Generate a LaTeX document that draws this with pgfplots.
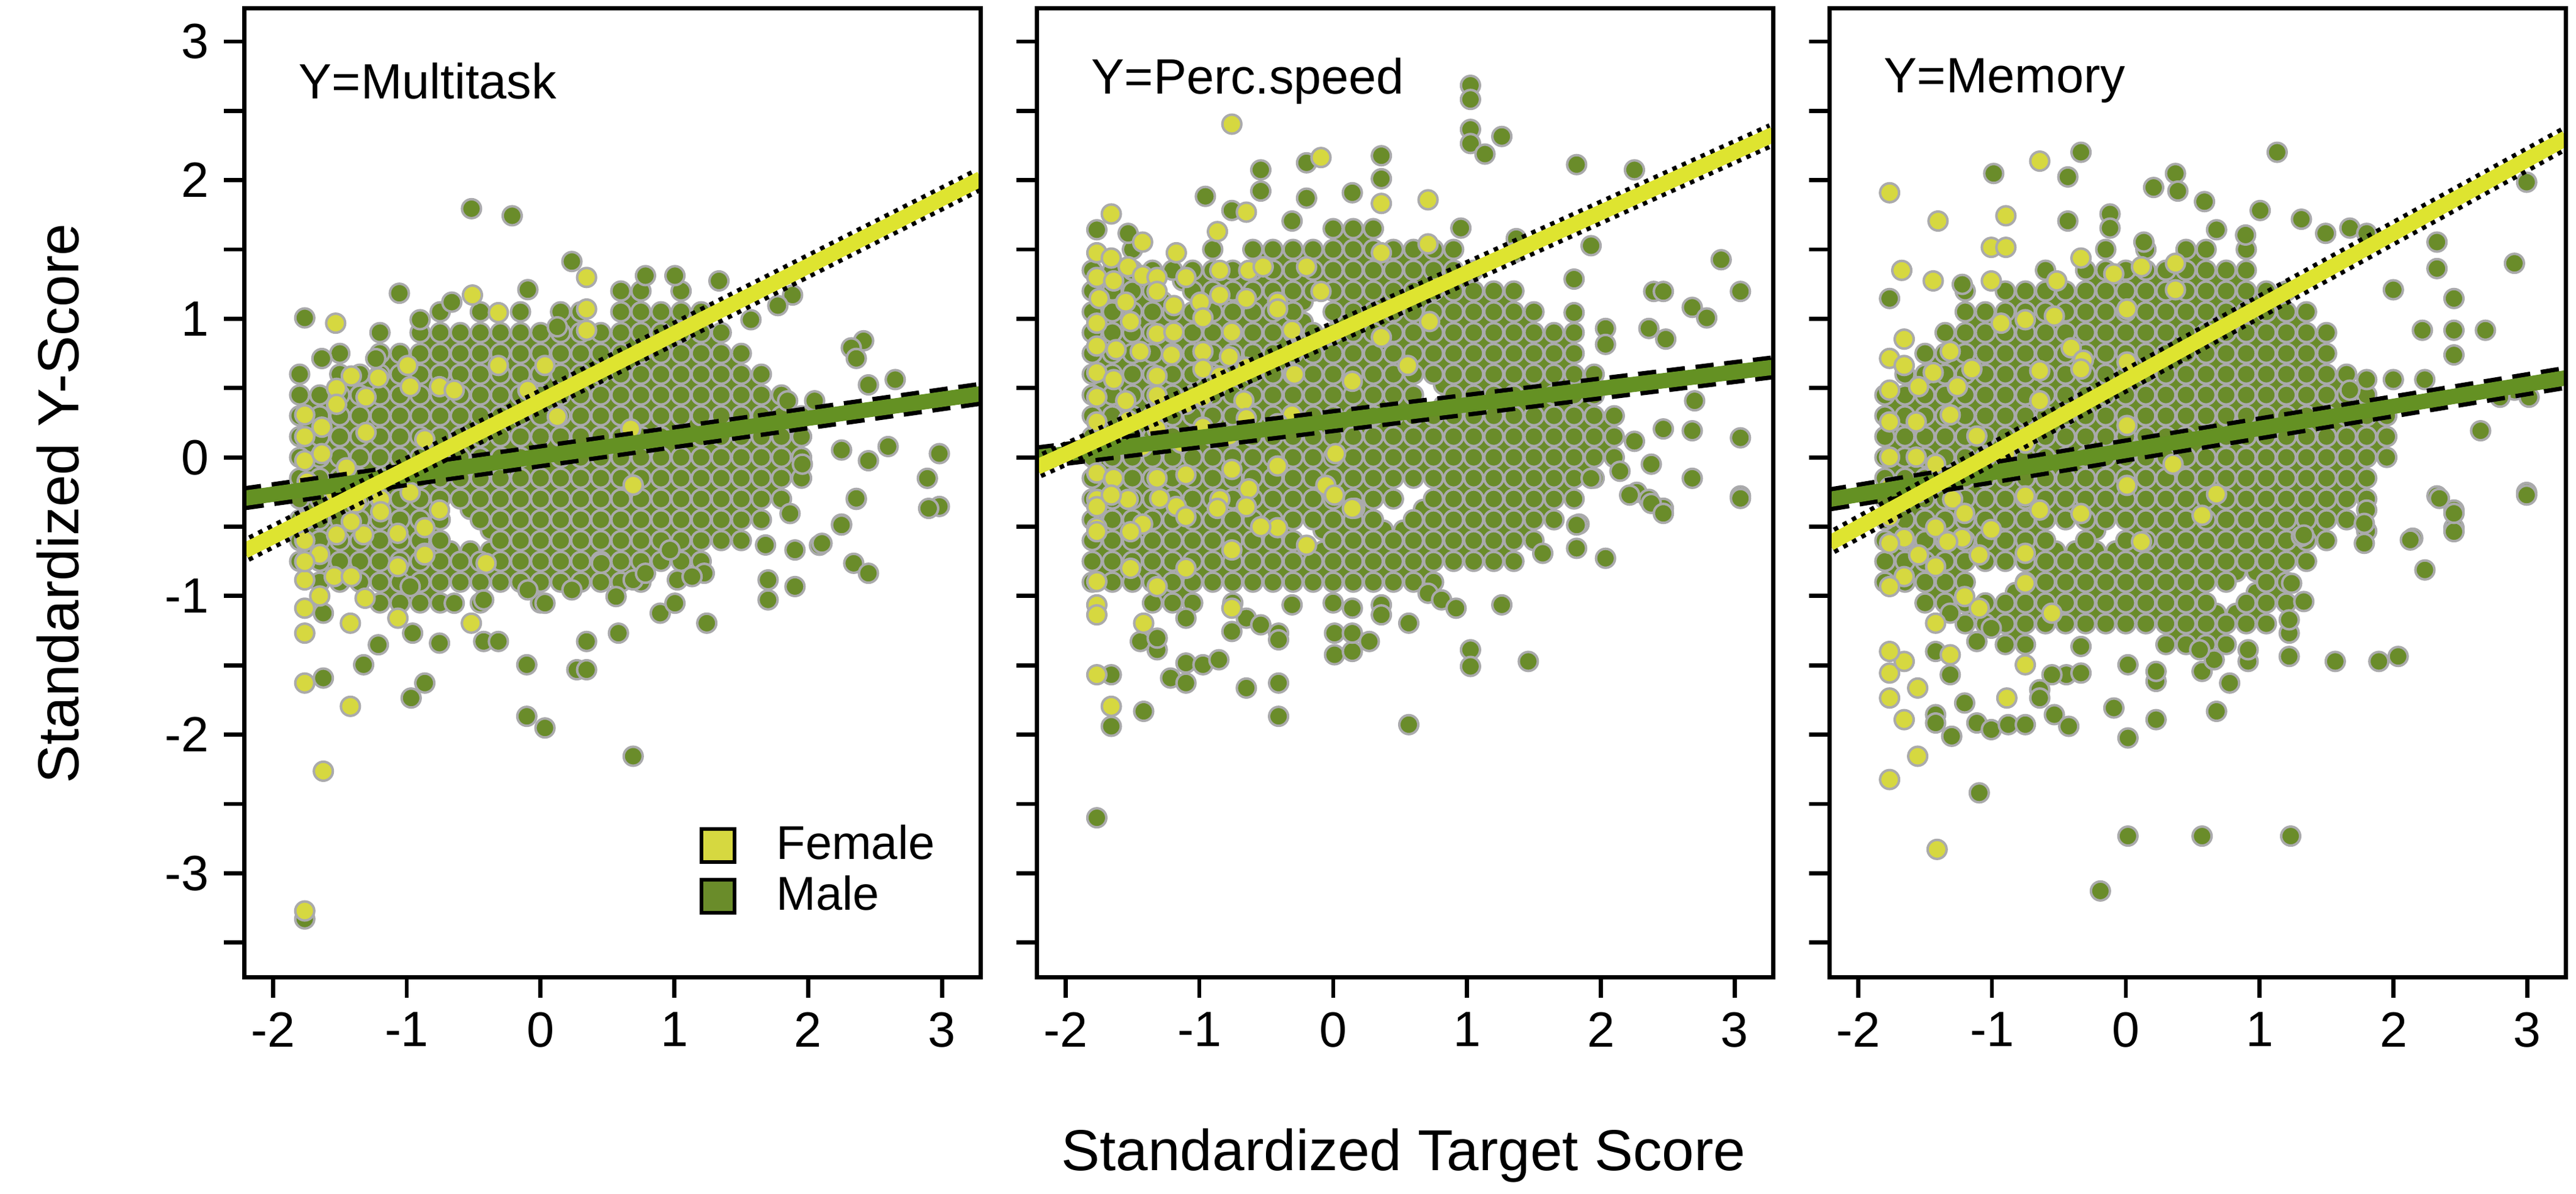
\documentclass[border=0pt]{standalone}
\usepackage{fontspec}
\setmainfont{Liberation Sans}
\usepackage{pgfplots}
\pgfplotsset{compat=1.18}
\definecolor{malegreen}{RGB}{106,140,42}
\definecolor{malelinegreen}{RGB}{100,145,35}
\definecolor{femfill}{RGB}{214,216,64}
\definecolor{femline}{RGB}{222,228,48}
\definecolor{edgegray}{RGB}{170,170,172}
\tikzset{ptitle/.style={anchor=west, inner sep=0pt, font=\fontsize{12}{14}\selectfont}}
\pgfplotsset{
  panel/.style={
    scale only axis, width=178.4pt, height=234.8pt,
    xmin=-2.213, xmax=3.29, ymin=-3.75, ymax=3.24,
    axis line style={line width=1pt},
    xtick={-2,-1,0,1,2,3}, xticklabels={-2,-1,0,1,2,3},
    ytick={-3,-2,-1,0,1,2,3},
    minor ytick={-3.5,-2.5,-1.5,-0.5,0.5,1.5,2.5},
    xtick pos=bottom, ytick pos=left,
    tick align=outside,
    major tick length=5pt, minor tick length=5pt,
    tick style={black, line width=1pt},
    tick label style={font=\fontsize{12}{14}\selectfont},
    clip marker paths=true,
    axis on top,
  },
  male/.style={only marks, mark=*, mark size=2.3pt, mark options={fill=malegreen, draw=edgegray, line width=0.6pt}, forget plot},
  female/.style={only marks, mark=*, mark size=2.3pt, mark options={fill=femfill, draw=edgegray, line width=0.6pt}, forget plot},
  fdots/.style={black, line width=5.8pt, dash pattern=on 1.1pt off 1.4pt, forget plot},
  fcore/.style={femline, line width=3.7pt, forget plot},
  mdash/.style={black, line width=5.8pt, dash pattern=on 4.4pt off 2.6pt, forget plot},
  mcore/.style={malelinegreen, line width=3.7pt, forget plot},
}
\begin{document}
\begin{tikzpicture}
% ---------------- Panel 1: Multitask ----------------
\begin{axis}[panel, at={(0pt,0pt)}, anchor=south west,
  yticklabels={-3,-2,-1,0,1,2,3},
  legend style={at={(rel axis cs:0.6,0.175)}, anchor=north west, draw=none, fill=none,
    font=\fontsize{11.5}{13}\selectfont, row sep=-1.5pt, cells={anchor=west}}]
\addlegendimage{legend image code/.code={\draw[black,line width=0.9pt,fill=femfill] (0pt,-4pt) rectangle (8pt,4pt); \path (16pt,0pt);}}
\addlegendentry{Female}
\addlegendimage{legend image code/.code={\draw[black,line width=0.9pt,fill=malegreen] (0pt,-4pt) rectangle (8pt,4pt); \path (16pt,0pt);}}
\addlegendentry{Male}
\addplot[male] coordinates {
(-1.725,-0.675)(-1.725,-0.525)(-1.725,-0.375)(-1.725,-0.225)(-1.725,-0.075)(-1.725,0.075)(-1.725,0.225)(-1.725,0.375)
(-1.575,-0.825)(-1.575,-0.675)(-1.575,-0.525)(-1.575,-0.375)(-1.575,-0.225)(-1.575,-0.075)(-1.575,0.075)(-1.575,0.225)(-1.575,0.375)
(-1.425,-0.825)(-1.425,-0.675)(-1.425,-0.525)(-1.425,-0.375)(-1.425,-0.225)(-1.425,-0.075)(-1.425,0.075)(-1.425,0.225)(-1.425,0.375)(-1.425,0.525)
(-1.275,-0.825)(-1.275,-0.675)(-1.275,-0.525)(-1.275,-0.375)(-1.275,-0.225)(-1.275,-0.075)(-1.275,0.075)(-1.275,0.225)(-1.275,0.375)(-1.275,0.525)
(-1.125,-0.975)(-1.125,-0.825)(-1.125,-0.675)(-1.125,-0.525)(-1.125,-0.375)(-1.125,-0.225)(-1.125,-0.075)(-1.125,0.075)(-1.125,0.225)(-1.125,0.375)(-1.125,0.525)(-1.125,0.675)
(-0.975,-0.975)(-0.975,-0.825)(-0.975,-0.675)(-0.975,-0.525)(-0.975,-0.375)(-0.975,-0.225)(-0.975,-0.075)(-0.975,0.075)(-0.975,0.225)(-0.975,0.375)(-0.975,0.525)(-0.975,0.675)
(-0.825,-0.975)(-0.825,-0.825)(-0.825,-0.675)(-0.825,-0.525)(-0.825,-0.375)(-0.825,-0.225)(-0.825,-0.075)(-0.825,0.075)(-0.825,0.225)(-0.825,0.375)(-0.825,0.525)(-0.825,0.675)(-0.825,0.825)
(-0.675,-0.825)(-0.675,-0.675)(-0.675,-0.225)(-0.675,-0.075)(-0.675,0.075)(-0.675,0.225)(-0.675,0.375)(-0.675,0.525)(-0.675,0.675)(-0.675,0.825)
(-0.525,-0.825)(-0.525,-0.675)(-0.525,-0.375)(-0.525,-0.225)(-0.525,-0.075)(-0.525,0.075)(-0.525,0.225)(-0.525,0.375)(-0.525,0.525)(-0.525,0.675)(-0.525,0.825)
(-0.375,-0.825)(-0.375,-0.675)(-0.375,-0.525)(-0.375,-0.375)(-0.375,-0.225)(-0.375,-0.075)(-0.375,0.075)(-0.375,0.225)(-0.375,0.375)(-0.375,0.525)(-0.375,0.675)(-0.375,0.825)
(-0.225,-0.825)(-0.225,-0.675)(-0.225,-0.525)(-0.225,-0.375)(-0.225,-0.225)(-0.225,-0.075)(-0.225,0.075)(-0.225,0.225)(-0.225,0.375)(-0.225,0.525)(-0.225,0.675)(-0.225,0.825)
(-0.075,-0.825)(-0.075,-0.675)(-0.075,-0.525)(-0.075,-0.375)(-0.075,-0.225)(-0.075,-0.075)(-0.075,0.075)(-0.075,0.225)(-0.075,0.375)(-0.075,0.525)(-0.075,0.675)(-0.075,0.825)
(0.075,-0.825)(0.075,-0.675)(0.075,-0.525)(0.075,-0.375)(0.075,-0.225)(0.075,-0.075)(0.075,0.075)(0.075,0.225)(0.075,0.375)(0.075,0.525)(0.075,0.675)(0.075,0.825)
(0.225,-0.825)(0.225,-0.675)(0.225,-0.525)(0.225,-0.375)(0.225,-0.225)(0.225,-0.075)(0.225,0.075)(0.225,0.225)(0.225,0.375)(0.225,0.525)(0.225,0.675)(0.225,0.825)(0.225,0.975)
(0.375,-0.825)(0.375,-0.675)(0.375,-0.525)(0.375,-0.375)(0.375,-0.225)(0.375,-0.075)(0.375,0.075)(0.375,0.225)(0.375,0.375)(0.375,0.525)(0.375,0.675)(0.375,0.825)
(0.525,-0.825)(0.525,-0.675)(0.525,-0.525)(0.525,-0.375)(0.525,-0.225)(0.525,-0.075)(0.525,0.075)(0.525,0.225)(0.525,0.375)(0.525,0.525)(0.525,0.675)(0.525,0.825)
(0.675,-0.825)(0.675,-0.675)(0.675,-0.525)(0.675,-0.375)(0.675,-0.225)(0.675,-0.075)(0.675,0.075)(0.675,0.225)(0.675,0.375)(0.675,0.525)(0.675,0.675)(0.675,0.825)(0.675,0.975)(0.675,1.125)
(0.825,-0.675)(0.825,-0.525)(0.825,-0.375)(0.825,-0.225)(0.825,-0.075)(0.825,0.075)(0.825,0.225)(0.825,0.375)(0.825,0.525)(0.825,0.675)(0.825,0.825)(0.825,0.975)
(0.975,-0.675)(0.975,-0.525)(0.975,-0.375)(0.975,-0.225)(0.975,-0.075)(0.975,0.075)(0.975,0.225)(0.975,0.375)(0.975,0.525)(0.975,0.675)(0.975,0.825)(0.975,0.975)
(1.125,-0.675)(1.125,-0.525)(1.125,-0.375)(1.125,-0.225)(1.125,-0.075)(1.125,0.075)(1.125,0.225)(1.125,0.375)(1.125,0.525)(1.125,0.675)(1.125,0.825)(1.125,0.975)
(1.275,-0.525)(1.275,-0.375)(1.275,-0.225)(1.275,-0.075)(1.275,0.075)(1.275,0.225)(1.275,0.375)(1.275,0.525)(1.275,0.675)(1.275,0.825)
(1.425,-0.525)(1.425,-0.375)(1.425,-0.225)(1.425,-0.075)(1.425,0.075)(1.425,0.225)(1.425,0.375)(1.425,0.525)(1.425,0.675)
(1.575,-0.375)(1.575,-0.225)(1.575,-0.075)(1.575,0.075)(1.575,0.225)(1.575,0.375)(1.575,0.525)
(1.725,-0.225)(1.725,-0.075)(1.725,0.075)(1.725,0.225)(1.725,0.375)
(1.875,-0.075)(1.875,0.075)(1.875,0.225)
};
\addplot[male] coordinates {
(-1.8,-0.75)(-1.8,-0.6)(-1.8,-0.45)(-1.8,-0.3)(-1.8,-0.15)(-1.8,0)(-1.8,0.15)(-1.8,0.3)(-1.8,0.45)(-1.8,0.6)
(-1.65,-0.9)(-1.65,-0.75)(-1.65,-0.6)(-1.65,-0.45)(-1.65,-0.3)(-1.65,-0.15)(-1.65,0)(-1.65,0.15)(-1.65,0.3)(-1.65,0.45)
(-1.5,-0.9)(-1.5,-0.75)(-1.5,-0.6)(-1.5,-0.45)(-1.5,-0.3)(-1.5,-0.15)(-1.5,0)(-1.5,0.15)(-1.5,0.3)(-1.5,0.45)(-1.5,0.6)(-1.5,0.75)
(-1.35,-0.9)(-1.35,-0.75)(-1.35,-0.6)(-1.35,-0.45)(-1.35,-0.3)(-1.35,-0.15)(-1.35,0)(-1.35,0.15)(-1.35,0.3)(-1.35,0.45)(-1.35,0.6)
(-1.2,-1.05)(-1.2,-0.9)(-1.2,-0.75)(-1.2,-0.6)(-1.2,-0.45)(-1.2,-0.3)(-1.2,-0.15)(-1.2,0)(-1.2,0.15)(-1.2,0.3)(-1.2,0.45)(-1.2,0.6)(-1.2,0.75)(-1.2,0.9)
(-1.05,-1.05)(-1.05,-0.9)(-1.05,-0.75)(-1.05,-0.6)(-1.05,-0.45)(-1.05,-0.3)(-1.05,-0.15)(-1.05,0)(-1.05,0.15)(-1.05,0.3)(-1.05,0.45)(-1.05,0.6)(-1.05,0.75)
(-0.9,-1.05)(-0.9,-0.9)(-0.9,-0.75)(-0.9,-0.6)(-0.9,-0.45)(-0.9,-0.3)(-0.9,-0.15)(-0.9,0)(-0.9,0.15)(-0.9,0.3)(-0.9,0.45)(-0.9,0.6)(-0.9,0.75)(-0.9,0.9)
(-0.75,-1.05)(-0.75,-0.9)(-0.75,-0.75)(-0.75,-0.6)(-0.75,-0.45)(-0.75,-0.3)(-0.75,-0.15)(-0.75,0)(-0.75,0.15)(-0.75,0.3)(-0.75,0.45)(-0.75,0.6)(-0.75,0.75)(-0.75,0.9)(-0.75,1.05)
(-0.6,-0.9)(-0.6,-0.75)(-0.6,-0.3)(-0.6,-0.15)(-0.6,0)(-0.6,0.15)(-0.6,0.3)(-0.6,0.45)(-0.6,0.6)(-0.6,0.75)(-0.6,0.9)
(-0.45,-1.05)(-0.45,-0.9)(-0.45,-0.75)(-0.45,-0.45)(-0.45,-0.3)(-0.45,-0.15)(-0.45,0)(-0.45,0.15)(-0.45,0.3)(-0.45,0.45)(-0.45,0.6)(-0.45,0.75)(-0.45,0.9)(-0.45,1.05)
(-0.3,-0.9)(-0.3,-0.75)(-0.3,-0.6)(-0.3,-0.45)(-0.3,-0.3)(-0.3,-0.15)(-0.3,0)(-0.3,0.15)(-0.3,0.3)(-0.3,0.45)(-0.3,0.6)(-0.3,0.75)(-0.3,0.9)
(-0.15,-0.9)(-0.15,-0.75)(-0.15,-0.6)(-0.15,-0.45)(-0.15,-0.3)(-0.15,-0.15)(-0.15,0)(-0.15,0.15)(-0.15,0.3)(-0.15,0.45)(-0.15,0.6)(-0.15,0.75)(-0.15,0.9)(-0.15,1.05)
(0,-1.05)(0,-0.9)(0,-0.75)(0,-0.6)(0,-0.45)(0,-0.3)(0,-0.15)(0,0)(0,0.15)(0,0.3)(0,0.45)(0,0.6)(0,0.75)(0,0.9)
(0.15,-0.9)(0.15,-0.75)(0.15,-0.6)(0.15,-0.45)(0.15,-0.3)(0.15,-0.15)(0.15,0)(0.15,0.15)(0.15,0.3)(0.15,0.45)(0.15,0.6)(0.15,0.75)(0.15,0.9)(0.15,1.05)
(0.3,-0.9)(0.3,-0.75)(0.3,-0.6)(0.3,-0.45)(0.3,-0.3)(0.3,-0.15)(0.3,0)(0.3,0.15)(0.3,0.3)(0.3,0.45)(0.3,0.6)(0.3,0.75)(0.3,0.9)(0.3,1.05)
(0.45,-0.9)(0.45,-0.75)(0.45,-0.6)(0.45,-0.45)(0.45,-0.3)(0.45,-0.15)(0.45,0)(0.45,0.15)(0.45,0.3)(0.45,0.45)(0.45,0.6)(0.45,0.75)(0.45,0.9)
(0.6,-0.9)(0.6,-0.75)(0.6,-0.6)(0.6,-0.45)(0.6,-0.3)(0.6,-0.15)(0.6,0)(0.6,0.15)(0.6,0.3)(0.6,0.45)(0.6,0.6)(0.6,0.75)(0.6,0.9)(0.6,1.05)(0.6,1.2)
(0.75,-0.9)(0.75,-0.75)(0.75,-0.6)(0.75,-0.45)(0.75,-0.3)(0.75,-0.15)(0.75,0)(0.75,0.15)(0.75,0.3)(0.75,0.45)(0.75,0.6)(0.75,0.75)(0.75,0.9)(0.75,1.05)(0.75,1.2)
(0.9,-0.75)(0.9,-0.6)(0.9,-0.45)(0.9,-0.3)(0.9,-0.15)(0.9,0)(0.9,0.15)(0.9,0.3)(0.9,0.45)(0.9,0.6)(0.9,0.75)(0.9,0.9)(0.9,1.05)
(1.05,-0.75)(1.05,-0.6)(1.05,-0.45)(1.05,-0.3)(1.05,-0.15)(1.05,0)(1.05,0.15)(1.05,0.3)(1.05,0.45)(1.05,0.6)(1.05,0.75)(1.05,0.9)(1.05,1.05)(1.05,1.2)
(1.2,-0.75)(1.2,-0.6)(1.2,-0.45)(1.2,-0.3)(1.2,-0.15)(1.2,0)(1.2,0.15)(1.2,0.3)(1.2,0.45)(1.2,0.6)(1.2,0.75)(1.2,0.9)(1.2,1.05)
(1.35,-0.6)(1.35,-0.45)(1.35,-0.3)(1.35,-0.15)(1.35,0)(1.35,0.15)(1.35,0.3)(1.35,0.45)(1.35,0.6)(1.35,0.75)(1.35,0.9)
(1.5,-0.6)(1.5,-0.45)(1.5,-0.3)(1.5,-0.15)(1.5,0)(1.5,0.15)(1.5,0.3)(1.5,0.45)(1.5,0.6)(1.5,0.75)
(1.65,-0.45)(1.65,-0.3)(1.65,-0.15)(1.65,0)(1.65,0.15)(1.65,0.3)(1.65,0.45)(1.65,0.6)
(1.8,-0.3)(1.8,-0.15)(1.8,0)(1.8,0.15)(1.8,0.3)(1.8,0.45)
(1.95,-0.15)(1.95,0)(1.95,0.15)(1.95,0.3)
(-0.516,1.794)(-0.212,1.743)(0.234,1.413)(-1.055,1.184)(-0.095,1.21)(-1.762,1.006)(0.784,1.311)(1.004,1.311)
(1.333,1.273)(1.883,1.171)(1.773,1.095)(2.414,0.841)(2.322,0.79)(1.572,0.993)(2.359,0.714)(2.45,0.523)(2.65,0.561)
(2.98,0.027)(2.98,-0.354)(2.89,-0.151)(2.597,0.078)(2.45,-0.024)(2.249,0.053)(2.359,-0.303)(2.249,-0.481)
(2.048,0.408)(1.846,0.408)(1.956,-0.049)(2.084,-0.634)(1.864,-0.405)(-1.634,0.713)(-1.231,0.713)(-0.9,0.993)(-0.663,1.12)(0.125,0.942)
(-1.762,-3.33)(-1.623,-1.592)(-1.322,-1.496)(-1.212,-1.352)(-0.967,-1.736)(-0.865,-1.628)(-0.755,-1.34)(-0.103,-1.496)
(-0.103,-1.868)(0.033,-1.952)(0.271,-1.532)(0.344,-1.532)(0.344,-1.328)(0.692,-2.156)(0.582,-1.268)(0.894,-1.124)
(1.242,-1.196)(1.004,-1.052)(1.223,-0.836)(1.7,-1.028)(1.7,-0.884)(1.901,-0.932)(2.34,-0.764)(2.45,-0.836)
(2.249,-0.488)(2.103,-0.62)(1.901,-0.668)(1.681,-0.632)(2.9,-0.368)(2.359,-0.296)
(-1.623,-1.124)(-0.956,-1.268)(-0.425,-1.328)(-0.315,-1.328)(0.033,-1.052)(-0.645,-1.052)(-0.425,-1.028)(-0.974,-0.932)
(-0.095,-0.956)(0.234,-0.956)(0.564,-1.004)(0.692,-0.884)(1.022,-0.884)(1.132,-0.86)(0.784,-0.836)(0.967,-0.668)(0.454,-0.764)
};
\addplot[female] coordinates {
(-1.531,0.968)(-0.509,1.171)(0.344,1.298)(-0.315,1.044)(0.344,1.07)(0.344,0.917)
(-1.762,0.307)(-1.524,0.498)(-1.414,0.587)(-1.212,0.574)(-0.992,0.663)(-0.974,0.51)(-0.755,0.51)(-0.645,0.485)
(-0.315,0.663)(0.033,0.663)(-0.095,0.485)(0.125,0.294)(0.674,0.205)(0.692,-0.2)(-0.865,0.129)(-1.304,0.434)
(-1.524,0.383)(-1.634,0.218)(-1.304,0.18)(-1.762,-0.024)(-1.634,0.027)(-1.45,-0.075)(-1.744,-0.176)(-1.542,-0.253)
(-1.377,-0.329)(-1.194,-0.303)(-0.974,-0.253)(-1.524,-0.558)(-1.322,-0.558)(-0.865,-0.507)(-0.755,-0.38)
(-1.414,-0.464)(-1.194,-0.392)(-1.066,-0.548)(-0.865,-0.692)(-1.762,0.15)(-1.762,-0.45)(-1.762,-0.6)(-1.65,-0.7)(-1.65,-1.0)
(-1.762,-3.272)(-1.623,-2.264)(-1.762,-1.628)(-1.421,-1.796)(-1.762,-1.268)(-1.762,-1.088)(-1.421,-1.196)(-1.066,-1.16)
(-0.517,-1.196)(-1.311,-1.016)(-1.762,-0.884)(-1.762,-0.752)(-1.542,-0.86)(-1.414,-0.86)(-0.865,-0.704)(-1.066,-0.788)(-0.407,-0.764)
};
\addplot[mdash] coordinates {(-2.213,-0.295) (3.29,0.459)};
\addplot[mcore] coordinates {(-2.213,-0.295) (3.29,0.459)};
\addplot[fdots] coordinates {(-2.213,-0.675) (3.29,2.01)};
\addplot[fcore] coordinates {(-2.213,-0.675) (3.29,2.01)};
\node[ptitle] at (rel axis cs:0.073,0.925) {Y=Multitask};
\end{axis}
% ---------------- Panel 2: Perc.speed ----------------
\begin{axis}[panel, at={(192pt,0pt)}, anchor=south west, yticklabels={}]
\addplot[male] coordinates {
(-1.725,-0.825)(-1.725,-0.675)(-1.725,-0.525)(-1.725,-0.375)(-1.725,-0.225)(-1.725,-0.075)(-1.725,0.075)(-1.725,0.225)(-1.725,0.375)(-1.725,0.525)(-1.725,0.675)(-1.725,0.825)(-1.725,0.975)(-1.725,1.125)(-1.725,1.275)
(-1.575,-0.825)(-1.575,-0.675)(-1.575,-0.525)(-1.575,-0.375)(-1.575,-0.225)(-1.575,-0.075)(-1.575,0.075)(-1.575,0.225)(-1.575,0.375)(-1.575,0.525)(-1.575,0.675)(-1.575,0.825)(-1.575,0.975)(-1.575,1.125)(-1.575,1.275)
(-1.425,-0.825)(-1.425,-0.675)(-1.425,-0.525)(-1.425,-0.375)(-1.425,-0.225)(-1.425,-0.075)(-1.425,0.075)(-1.425,0.225)(-1.425,0.375)(-1.425,0.525)(-1.425,0.675)(-1.425,0.825)(-1.425,0.975)(-1.425,1.125)(-1.425,1.275)
(-1.275,-0.975)(-1.275,-0.825)(-1.275,-0.675)(-1.275,-0.525)(-1.275,-0.375)(-1.275,-0.225)(-1.275,-0.075)(-1.275,0.075)(-1.275,0.225)(-1.275,0.375)(-1.275,0.525)(-1.275,0.675)(-1.275,0.825)(-1.275,0.975)(-1.275,1.125)
(-1.125,-0.975)(-1.125,-0.825)(-1.125,-0.675)(-1.125,-0.525)(-1.125,-0.375)(-1.125,-0.225)(-1.125,-0.075)(-1.125,0.075)(-1.125,0.225)(-1.125,0.375)(-1.125,0.525)(-1.125,0.675)(-1.125,0.825)(-1.125,0.975)(-1.125,1.275)
(-0.975,-0.825)(-0.975,-0.675)(-0.975,-0.525)(-0.975,-0.375)(-0.975,-0.225)(-0.975,-0.075)(-0.975,0.075)(-0.975,0.225)(-0.975,0.375)(-0.975,0.525)(-0.975,0.675)(-0.975,0.825)(-0.975,0.975)(-0.975,1.125)(-0.975,1.275)
(-0.825,-0.825)(-0.825,-0.675)(-0.825,-0.525)(-0.825,-0.375)(-0.825,-0.225)(-0.825,-0.075)(-0.825,0.075)(-0.825,0.225)(-0.825,0.375)(-0.825,0.525)(-0.825,0.675)(-0.825,0.825)(-0.825,0.975)(-0.825,1.125)(-0.825,1.275)
(-0.675,-0.825)(-0.675,-0.675)(-0.675,-0.525)(-0.675,-0.375)(-0.675,-0.225)(-0.675,-0.075)(-0.675,0.075)(-0.675,0.225)(-0.675,0.375)(-0.675,0.525)(-0.675,0.675)(-0.675,0.825)(-0.675,0.975)(-0.675,1.125)(-0.675,1.275)
(-0.525,-0.825)(-0.525,-0.675)(-0.525,-0.525)(-0.525,-0.375)(-0.525,-0.225)(-0.525,-0.075)(-0.525,0.075)(-0.525,0.225)(-0.525,0.375)(-0.525,0.525)(-0.525,0.675)(-0.525,0.825)(-0.525,0.975)(-0.525,1.125)(-0.525,1.275)(-0.525,1.425)
(-0.375,-0.825)(-0.375,-0.675)(-0.375,-0.525)(-0.375,-0.375)(-0.375,-0.225)(-0.375,-0.075)(-0.375,0.075)(-0.375,0.225)(-0.375,0.375)(-0.375,0.525)(-0.375,0.675)(-0.375,0.825)(-0.375,0.975)(-0.375,1.125)(-0.375,1.275)(-0.375,1.425)
(-0.225,-0.825)(-0.225,-0.675)(-0.225,-0.375)(-0.225,-0.225)(-0.225,-0.075)(-0.225,0.075)(-0.225,0.225)(-0.225,0.375)(-0.225,0.525)(-0.225,0.675)(-0.225,0.825)(-0.225,0.975)(-0.225,1.125)(-0.225,1.275)(-0.225,1.425)
(-0.075,-0.825)(-0.075,-0.675)(-0.075,-0.525)(-0.075,-0.375)(-0.075,-0.225)(-0.075,-0.075)(-0.075,0.075)(-0.075,0.225)(-0.075,0.375)(-0.075,0.525)(-0.075,0.675)(-0.075,0.825)(-0.075,1.275)(-0.075,1.425)
(0.075,-0.825)(0.075,-0.675)(0.075,-0.525)(0.075,-0.375)(0.075,-0.225)(0.075,-0.075)(0.075,0.075)(0.075,0.225)(0.075,0.375)(0.075,0.525)(0.075,0.675)(0.075,0.825)(0.075,0.975)(0.075,1.125)(0.075,1.275)(0.075,1.425)(0.075,1.575)
(0.225,-0.825)(0.225,-0.675)(0.225,-0.525)(0.225,-0.375)(0.225,-0.225)(0.225,-0.075)(0.225,0.075)(0.225,0.225)(0.225,0.375)(0.225,0.525)(0.225,0.675)(0.225,0.825)(0.225,0.975)(0.225,1.125)(0.225,1.275)(0.225,1.425)(0.225,1.575)
(0.375,-0.825)(0.375,-0.675)(0.375,-0.525)(0.375,-0.225)(0.375,-0.075)(0.375,0.075)(0.375,0.225)(0.375,0.375)(0.375,0.525)(0.375,0.675)(0.375,0.825)(0.375,0.975)(0.375,1.125)(0.375,1.275)(0.375,1.425)
(0.525,-0.825)(0.525,-0.675)(0.525,-0.525)(0.525,-0.075)(0.525,0.075)(0.525,0.225)(0.525,0.375)(0.525,0.525)(0.525,0.675)(0.525,0.825)(0.525,0.975)(0.525,1.125)(0.525,1.275)(0.525,1.425)
(0.675,-0.825)(0.675,-0.675)(0.675,-0.525)(0.675,-0.375)(0.675,-0.075)(0.675,0.075)(0.675,0.225)(0.675,0.675)(0.675,0.825)(0.675,0.975)(0.675,1.125)(0.675,1.275)(0.675,1.425)
(0.825,-0.675)(0.825,-0.525)(0.825,-0.375)(0.825,-0.225)(0.825,-0.075)(0.825,0.075)(0.825,0.225)(0.825,0.375)(0.825,0.525)(0.825,0.675)(0.825,0.825)(0.825,0.975)(0.825,1.125)(0.825,1.275)(0.825,1.425)
(0.975,-0.675)(0.975,-0.525)(0.975,-0.375)(0.975,-0.225)(0.975,-0.075)(0.975,0.075)(0.975,0.225)(0.975,0.375)(0.975,0.525)(0.975,0.675)(0.975,0.825)(0.975,0.975)(0.975,1.125)(0.975,1.275)
(1.125,-0.675)(1.125,-0.525)(1.125,-0.375)(1.125,-0.225)(1.125,-0.075)(1.125,0.075)(1.125,0.225)(1.125,0.375)(1.125,0.525)(1.125,0.675)(1.125,0.825)(1.125,0.975)(1.125,1.125)
(1.275,-0.675)(1.275,-0.525)(1.275,-0.375)(1.275,-0.225)(1.275,-0.075)(1.275,0.075)(1.275,0.225)(1.275,0.375)(1.275,0.525)(1.275,0.675)(1.275,0.825)(1.275,0.975)(1.275,1.125)
(1.425,-0.525)(1.425,-0.375)(1.425,-0.225)(1.425,-0.075)(1.425,0.075)(1.425,0.225)(1.425,0.375)(1.425,0.525)(1.425,0.675)(1.425,0.825)(1.425,0.975)
(1.575,-0.375)(1.575,-0.225)(1.575,-0.075)(1.575,0.075)(1.575,0.225)(1.575,0.375)(1.575,0.525)(1.575,0.675)(1.575,0.825)
(1.725,-0.225)(1.725,-0.075)(1.725,0.075)(1.725,0.225)(1.725,0.375)(1.725,0.525)(1.725,0.675)(1.725,0.825)
(1.875,-0.075)(1.875,0.075)(1.875,0.225)(1.875,0.375)(1.875,0.525)
(2.025,0.075)(2.025,0.225)
};
\addplot[male] coordinates {
(-1.8,-0.9)(-1.8,-0.75)(-1.8,-0.6)(-1.8,-0.45)(-1.8,-0.3)(-1.8,-0.15)(-1.8,0)(-1.8,0.15)(-1.8,0.3)(-1.8,0.45)(-1.8,0.6)(-1.8,0.75)(-1.8,0.9)(-1.8,1.05)(-1.8,1.2)(-1.8,1.35)
(-1.65,-0.9)(-1.65,-0.75)(-1.65,-0.6)(-1.65,-0.45)(-1.65,-0.3)(-1.65,-0.15)(-1.65,0)(-1.65,0.15)(-1.65,0.3)(-1.65,0.45)(-1.65,0.6)(-1.65,0.75)(-1.65,0.9)(-1.65,1.05)(-1.65,1.2)(-1.65,1.35)
(-1.5,-0.9)(-1.5,-0.75)(-1.5,-0.6)(-1.5,-0.45)(-1.5,-0.3)(-1.5,-0.15)(-1.5,0)(-1.5,0.15)(-1.5,0.3)(-1.5,0.45)(-1.5,0.6)(-1.5,0.75)(-1.5,0.9)(-1.5,1.05)(-1.5,1.2)(-1.5,1.35)(-1.5,1.5)
(-1.35,-1.05)(-1.35,-0.9)(-1.35,-0.75)(-1.35,-0.6)(-1.35,-0.45)(-1.35,-0.3)(-1.35,-0.15)(-1.35,0)(-1.35,0.15)(-1.35,0.3)(-1.35,0.45)(-1.35,0.6)(-1.35,0.75)(-1.35,0.9)(-1.35,1.05)(-1.35,1.2)(-1.35,1.35)
(-1.2,-1.05)(-1.2,-0.9)(-1.2,-0.75)(-1.2,-0.6)(-1.2,-0.45)(-1.2,-0.3)(-1.2,-0.15)(-1.2,0)(-1.2,0.15)(-1.2,0.3)(-1.2,0.45)(-1.2,0.6)(-1.2,0.75)(-1.2,0.9)(-1.2,1.05)(-1.2,1.35)
(-1.05,-1.05)(-1.05,-0.9)(-1.05,-0.75)(-1.05,-0.6)(-1.05,-0.45)(-1.05,-0.3)(-1.05,-0.15)(-1.05,0)(-1.05,0.15)(-1.05,0.3)(-1.05,0.45)(-1.05,0.6)(-1.05,0.75)(-1.05,0.9)(-1.05,1.05)(-1.05,1.2)(-1.05,1.35)
(-0.9,-0.9)(-0.9,-0.75)(-0.9,-0.6)(-0.9,-0.45)(-0.9,-0.3)(-0.9,-0.15)(-0.9,0)(-0.9,0.15)(-0.9,0.3)(-0.9,0.45)(-0.9,0.6)(-0.9,0.75)(-0.9,0.9)(-0.9,1.05)(-0.9,1.2)(-0.9,1.35)(-0.9,1.5)
(-0.75,-1.05)(-0.75,-0.9)(-0.75,-0.75)(-0.75,-0.6)(-0.75,-0.45)(-0.75,-0.3)(-0.75,-0.15)(-0.75,0)(-0.75,0.15)(-0.75,0.3)(-0.75,0.45)(-0.75,0.6)(-0.75,0.75)(-0.75,0.9)(-0.75,1.05)(-0.75,1.2)(-0.75,1.35)
(-0.6,-0.9)(-0.6,-0.75)(-0.6,-0.6)(-0.6,-0.45)(-0.6,-0.3)(-0.6,-0.15)(-0.6,0)(-0.6,0.15)(-0.6,0.3)(-0.6,0.45)(-0.6,0.6)(-0.6,0.75)(-0.6,0.9)(-0.6,1.05)(-0.6,1.2)(-0.6,1.35)(-0.6,1.5)
(-0.45,-0.9)(-0.45,-0.75)(-0.45,-0.6)(-0.45,-0.45)(-0.45,-0.3)(-0.45,-0.15)(-0.45,0)(-0.45,0.15)(-0.45,0.3)(-0.45,0.45)(-0.45,0.6)(-0.45,0.75)(-0.45,0.9)(-0.45,1.05)(-0.45,1.2)(-0.45,1.35)(-0.45,1.5)
(-0.3,-0.9)(-0.3,-0.75)(-0.3,-0.6)(-0.3,-0.45)(-0.3,-0.3)(-0.3,-0.15)(-0.3,0)(-0.3,0.15)(-0.3,0.3)(-0.3,0.45)(-0.3,0.6)(-0.3,0.75)(-0.3,0.9)(-0.3,1.05)(-0.3,1.2)(-0.3,1.35)(-0.3,1.5)
(-0.15,-0.9)(-0.15,-0.75)(-0.15,-0.45)(-0.15,-0.3)(-0.15,-0.15)(-0.15,0)(-0.15,0.15)(-0.15,0.3)(-0.15,0.45)(-0.15,0.6)(-0.15,0.75)(-0.15,0.9)(-0.15,1.2)(-0.15,1.35)(-0.15,1.5)
(0,-1.05)(0,-0.9)(0,-0.75)(0,-0.6)(0,-0.45)(0,-0.3)(0,-0.15)(0,0)(0,0.15)(0,0.3)(0,0.45)(0,0.6)(0,0.75)(0,0.9)(0,1.05)(0,1.2)(0,1.35)(0,1.5)(0,1.65)
(0.15,-0.9)(0.15,-0.75)(0.15,-0.6)(0.15,-0.45)(0.15,-0.3)(0.15,-0.15)(0.15,0)(0.15,0.15)(0.15,0.3)(0.15,0.45)(0.15,0.6)(0.15,0.75)(0.15,0.9)(0.15,1.05)(0.15,1.2)(0.15,1.35)(0.15,1.5)(0.15,1.65)
(0.3,-0.9)(0.3,-0.75)(0.3,-0.6)(0.3,-0.45)(0.3,-0.3)(0.3,-0.15)(0.3,0)(0.3,0.15)(0.3,0.3)(0.3,0.45)(0.3,0.6)(0.3,0.75)(0.3,0.9)(0.3,1.05)(0.3,1.2)(0.3,1.35)(0.3,1.5)(0.3,1.65)
(0.45,-0.9)(0.45,-0.75)(0.45,-0.6)(0.45,-0.3)(0.45,-0.15)(0.45,0)(0.45,0.15)(0.45,0.3)(0.45,0.45)(0.45,0.6)(0.45,0.75)(0.45,0.9)(0.45,1.05)(0.45,1.2)(0.45,1.35)(0.45,1.5)
(0.6,-0.9)(0.6,-0.75)(0.6,-0.6)(0.6,-0.45)(0.6,-0.15)(0.6,0)(0.6,0.15)(0.6,0.3)(0.6,0.45)(0.6,0.6)(0.6,0.75)(0.6,0.9)(0.6,1.05)(0.6,1.2)(0.6,1.35)(0.6,1.5)
(0.75,-0.9)(0.75,-0.75)(0.75,-0.6)(0.75,-0.45)(0.75,-0.3)(0.75,-0.15)(0.75,0)(0.75,0.15)(0.75,0.3)(0.75,0.6)(0.75,0.75)(0.75,0.9)(0.75,1.05)(0.75,1.2)(0.75,1.35)(0.75,1.5)
(0.9,-0.75)(0.9,-0.6)(0.9,-0.45)(0.9,-0.3)(0.9,-0.15)(0.9,0)(0.9,0.15)(0.9,0.3)(0.9,0.45)(0.9,0.6)(0.9,0.75)(0.9,0.9)(0.9,1.05)(0.9,1.2)(0.9,1.35)(0.9,1.5)
(1.05,-0.75)(1.05,-0.6)(1.05,-0.45)(1.05,-0.3)(1.05,-0.15)(1.05,0)(1.05,0.15)(1.05,0.3)(1.05,0.45)(1.05,0.6)(1.05,0.75)(1.05,0.9)(1.05,1.05)(1.05,1.2)(1.05,1.35)
(1.2,-0.75)(1.2,-0.6)(1.2,-0.45)(1.2,-0.3)(1.2,-0.15)(1.2,0)(1.2,0.15)(1.2,0.3)(1.2,0.45)(1.2,0.6)(1.2,0.75)(1.2,0.9)(1.2,1.05)(1.2,1.2)
(1.35,-0.75)(1.35,-0.6)(1.35,-0.45)(1.35,-0.3)(1.35,-0.15)(1.35,0)(1.35,0.15)(1.35,0.3)(1.35,0.45)(1.35,0.6)(1.35,0.75)(1.35,0.9)(1.35,1.05)(1.35,1.2)
(1.5,-0.6)(1.5,-0.45)(1.5,-0.3)(1.5,-0.15)(1.5,0)(1.5,0.15)(1.5,0.3)(1.5,0.45)(1.5,0.6)(1.5,0.75)(1.5,0.9)(1.5,1.05)
(1.65,-0.45)(1.65,-0.3)(1.65,-0.15)(1.65,0)(1.65,0.15)(1.65,0.3)(1.65,0.45)(1.65,0.6)(1.65,0.75)(1.65,0.9)
(1.8,-0.3)(1.8,-0.15)(1.8,0)(1.8,0.15)(1.8,0.3)(1.8,0.45)(1.8,0.6)(1.8,0.75)(1.8,0.9)
(1.95,-0.15)(1.95,0)(1.95,0.15)(1.95,0.3)(1.95,0.45)(1.95,0.6)
(2.1,0)(2.1,0.15)(2.1,0.3)
(1.026,2.684)(1.026,2.582)(1.026,2.366)(1.26,2.315)(1.026,2.264)(1.134,2.188)(0.36,2.176)(0.36,2.01)(-0.199,2.125)
(-0.541,2.074)(-0.541,1.921)(-0.955,1.883)(-0.199,1.87)(0.143,1.909)(1.819,2.112)(2.251,2.074)(-1.766,1.642)(-1.532,1.616)
(-0.757,1.781)(-0.307,1.705)(1.927,1.527)(2.899,1.426)(2.395,1.197)(2.467,1.197)(3.043,1.197)(2.683,1.082)(2.791,1.006)
(2.359,0.93)(2.485,0.853)(1.8,1.286)(1.8,1.044)(2.035,0.93)(2.035,0.815)(1.368,1.578)(1.35,1.476)(0.954,1.654)
(2.701,0.408)(2.467,0.205)(2.683,0.192)(3.043,0.141)(2.251,0.116)(2.377,-0.049)(2.683,-0.151)(3.043,-0.278)(2.143,-0.1)
(2.269,-0.252)(2.359,-0.303)(2.467,-0.367)(1.837,-0.481)(1.927,-0.151)
(-1.766,-2.6)(-1.658,-1.94)(-1.416,-1.832)(-0.408,-1.868)(0.565,-1.928)(-1.658,-1.568)(-1.215,-1.592)(-1.1,-1.628)
(-1.1,-1.484)(-0.973,-1.496)(-0.854,-1.46)(-0.649,-1.664)(-0.408,-1.628)(0.01,-1.424)(0.143,-1.4)(1.026,-1.388)(1.026,-1.508)
(1.458,-1.472)(-1.441,-1.328)(-1.315,-1.388)(-1.315,-1.304)(-1.1,-1.16)(-0.757,-1.256)(-0.649,-1.16)(-0.541,-1.208)
(-0.408,-1.268)(-0.408,-1.316)(-0.307,-1.064)(0.01,-1.268)(0.143,-1.268)(0.27,-1.328)(0.143,-1.088)(0.36,-1.064)(0.36,-1.136)
(0.565,-1.196)(0.709,-0.98)(0.81,-1.028)(0.918,-1.088)(1.26,-1.064)(1.566,-0.692)(1.819,-0.488)(1.819,-0.656)(2.035,-0.728)
(2.215,-0.272)(2.377,-0.332)(2.467,-0.404)(3.043,-0.296)
};
\addplot[female] coordinates {
(-0.757,2.404)(-0.091,2.163)(-1.658,1.756)(-0.649,1.769)(0.36,1.832)(0.709,1.858)
(-1.766,1.476)(-1.658,1.438)(-1.424,1.553)(-1.172,1.476)(-0.865,1.629)(-1.532,1.375)(-1.766,1.298)(-1.64,1.273)
(-1.424,1.311)(-1.316,1.298)(-1.1,1.298)(-0.847,1.349)(-0.631,1.349)(-0.523,1.375)(-0.199,1.375)(0.36,1.476)(0.709,1.54)
(-1.748,1.146)(-1.55,1.12)(-1.316,1.197)(-1.19,1.095)(-0.991,1.12)(-0.847,1.171)(-0.649,1.146)(-0.415,1.12)(-0.091,1.197)
(-1.766,0.968)(-1.514,0.98)(-1.316,0.892)(-1.19,0.904)(-0.973,1.006)(-0.757,0.904)(-0.415,1.07)(-0.307,0.917)
(-1.766,0.803)(-1.622,0.777)(-1.442,0.764)(-1.208,0.739)(-0.973,0.764)(-0.775,0.726)(0.36,0.866)(0.72,0.98)
(-1.766,0.612)(-1.64,0.561)(-1.316,0.587)(-0.973,0.637)(-0.847,0.587)(-0.649,0.65)(-0.289,0.599)(0.143,0.549)(0.558,0.663)
(-1.766,0.434)(-1.55,0.408)(-1.316,0.447)(-1.1,0.383)(-0.973,0.434)(-0.667,0.408)(-0.307,0.307)
(-1.766,0.256)(-1.532,0.268)(-1.316,0.205)(-0.973,0.218)(-0.649,0.281)(-0.415,0.243)
(-1.766,0.078)(-1.64,0.103)(-1.424,0.078)(-1.136,0.103)(-0.775,0.154)
(-1.766,-0.113)(-1.64,-0.151)(-1.316,-0.151)(-1.1,-0.125)(-0.757,-0.087)(-0.415,-0.062)(0.018,0.027)
(-1.766,-0.303)(-1.532,-0.303)(-1.172,-0.354)(-0.847,-0.303)(-0.631,-0.227)(-0.055,-0.202)(0.161,-0.367)
(-1.766,-0.507)(-1.424,-0.481)(-0.415,-0.507)(-0.199,-0.634)
(-1.766,-1.064)(-1.766,-1.136)(-1.766,-0.896)(-1.514,-0.8)(-1.315,-0.932)(-1.1,-0.8)(-0.757,-1.088)(-0.757,-0.668)
(-0.541,-0.5)(0.143,-0.368)(-1.1,-0.428)(-0.865,-0.368)(-1.766,-0.536)(-1.514,-0.536)(-1.766,-0.356)(-0.649,-0.356)
(-1.297,-0.296)(-1.658,-0.272)(0.01,-0.272)(-1.766,-1.568)(-1.658,-1.796)(-1.416,-1.196)
};
\addplot[mdash] coordinates {(-2.213,0.0) (3.29,0.65)};
\addplot[mcore] coordinates {(-2.213,0.0) (3.29,0.65)};
\addplot[fdots] coordinates {(-2.213,-0.07) (3.29,2.33)};
\addplot[fcore] coordinates {(-2.213,-0.07) (3.29,2.33)};
\node[ptitle] at (rel axis cs:0.073,0.925) {Y=Perc.speed};
\end{axis}
% ---------------- Panel 3: Memory ----------------
\begin{axis}[panel, at={(384pt,0pt)}, anchor=south west, yticklabels={}]
\addplot[male] coordinates {
(-1.725,-0.825)(-1.725,-0.675)(-1.725,-0.525)(-1.725,-0.375)(-1.725,-0.225)(-1.725,-0.075)(-1.725,0.075)(-1.725,0.225)(-1.725,0.375)
(-1.575,-0.825)(-1.575,-0.675)(-1.575,-0.525)(-1.575,-0.375)(-1.575,-0.225)(-1.575,-0.075)(-1.575,0.075)(-1.575,0.225)(-1.575,0.375)(-1.575,0.525)
(-1.425,-0.975)(-1.425,-0.825)(-1.425,-0.675)(-1.425,-0.525)(-1.425,-0.375)(-1.425,-0.225)(-1.425,-0.075)(-1.425,0.075)(-1.425,0.225)(-1.425,0.375)(-1.425,0.525)(-1.425,0.675)
(-1.275,-0.975)(-1.275,-0.825)(-1.275,-0.675)(-1.275,-0.525)(-1.275,-0.375)(-1.275,-0.225)(-1.275,-0.075)(-1.275,0.075)(-1.275,0.225)(-1.275,0.375)(-1.275,0.525)(-1.275,0.675)(-1.275,0.825)
(-1.125,-1.125)(-1.125,-0.675)(-1.125,-0.525)(-1.125,-0.375)(-1.125,-0.225)(-1.125,-0.075)(-1.125,0.075)(-1.125,0.225)(-1.125,0.375)(-1.125,0.525)(-1.125,0.675)(-1.125,0.825)(-1.125,0.975)
(-0.975,-1.125)(-0.975,-0.675)(-0.975,-0.525)(-0.975,-0.375)(-0.975,-0.225)(-0.975,-0.075)(-0.975,0.075)(-0.975,0.225)(-0.975,0.375)(-0.975,0.525)(-0.975,0.675)(-0.975,0.825)(-0.975,0.975)
(-0.825,-1.275)(-0.825,-1.125)(-0.825,-0.975)(-0.825,-0.675)(-0.825,-0.525)(-0.825,-0.375)(-0.825,-0.225)(-0.825,-0.075)(-0.825,0.075)(-0.825,0.225)(-0.825,0.375)(-0.825,0.525)(-0.825,0.675)(-0.825,0.825)(-0.825,0.975)(-0.825,1.125)
(-0.675,-1.125)(-0.675,-0.975)(-0.675,-0.825)(-0.675,-0.675)(-0.675,-0.525)(-0.675,-0.375)(-0.675,-0.225)(-0.675,-0.075)(-0.675,0.075)(-0.675,0.225)(-0.675,0.375)(-0.675,0.525)(-0.675,0.675)(-0.675,0.825)(-0.675,0.975)(-0.675,1.125)
(-0.525,-1.125)(-0.525,-0.975)(-0.525,-0.825)(-0.525,-0.675)(-0.525,-0.375)(-0.525,-0.225)(-0.525,-0.075)(-0.525,0.075)(-0.525,0.225)(-0.525,0.375)(-0.525,0.525)(-0.525,0.675)(-0.525,0.825)(-0.525,0.975)(-0.525,1.125)
(-0.375,-1.125)(-0.375,-0.975)(-0.375,-0.825)(-0.375,-0.675)(-0.375,-0.375)(-0.375,-0.225)(-0.375,-0.075)(-0.375,0.075)(-0.375,0.225)(-0.375,0.375)(-0.375,0.525)(-0.375,0.675)(-0.375,0.825)(-0.375,0.975)(-0.375,1.125)
(-0.225,-1.125)(-0.225,-0.975)(-0.225,-0.825)(-0.225,-0.675)(-0.225,-0.525)(-0.225,-0.375)(-0.225,-0.225)(-0.225,-0.075)(-0.225,0.075)(-0.225,0.225)(-0.225,0.375)(-0.225,0.525)(-0.225,0.675)(-0.225,0.825)(-0.225,0.975)(-0.225,1.125)(-0.225,1.275)
(-0.075,-1.125)(-0.075,-0.975)(-0.075,-0.825)(-0.075,-0.675)(-0.075,-0.375)(-0.075,-0.225)(-0.075,-0.075)(-0.075,0.075)(-0.075,0.225)(-0.075,0.375)(-0.075,0.525)(-0.075,0.675)(-0.075,0.825)(-0.075,0.975)(-0.075,1.125)(-0.075,1.275)
(0.075,-1.125)(0.075,-0.975)(0.075,-0.825)(0.075,-0.675)(0.075,-0.525)(0.075,-0.375)(0.075,-0.225)(0.075,-0.075)(0.075,0.075)(0.075,0.225)(0.075,0.375)(0.075,0.525)(0.075,0.675)(0.075,0.825)(0.075,0.975)(0.075,1.125)(0.075,1.275)
(0.225,-1.125)(0.225,-0.975)(0.225,-0.825)(0.225,-0.675)(0.225,-0.525)(0.225,-0.375)(0.225,-0.225)(0.225,-0.075)(0.225,0.075)(0.225,0.225)(0.225,0.375)(0.225,0.525)(0.225,0.675)(0.225,0.825)(0.225,0.975)(0.225,1.125)(0.225,1.275)
(0.375,-1.275)(0.375,-1.125)(0.375,-0.975)(0.375,-0.825)(0.375,-0.675)(0.375,-0.525)(0.375,-0.375)(0.375,-0.225)(0.375,-0.075)(0.375,0.075)(0.375,0.225)(0.375,0.375)(0.375,0.525)(0.375,0.675)(0.375,0.825)(0.375,0.975)(0.375,1.125)(0.375,1.275)
(0.525,-1.275)(0.525,-1.125)(0.525,-0.975)(0.525,-0.825)(0.525,-0.675)(0.525,-0.525)(0.525,-0.375)(0.525,-0.225)(0.525,-0.075)(0.525,0.075)(0.525,0.225)(0.525,0.375)(0.525,0.525)(0.525,0.675)(0.525,0.825)(0.525,0.975)(0.525,1.125)(0.525,1.275)(0.525,1.425)
(0.675,-1.275)(0.675,-1.125)(0.675,-0.825)(0.675,-0.675)(0.675,-0.525)(0.675,-0.375)(0.675,-0.225)(0.675,-0.075)(0.675,0.075)(0.675,0.225)(0.675,0.375)(0.675,0.525)(0.675,0.675)(0.675,0.825)(0.675,0.975)(0.675,1.125)(0.675,1.275)
(0.825,-1.125)(0.825,-0.825)(0.825,-0.675)(0.825,-0.525)(0.825,-0.375)(0.825,-0.225)(0.825,-0.075)(0.825,0.075)(0.825,0.225)(0.825,0.375)(0.825,0.525)(0.825,0.675)(0.825,0.825)(0.825,0.975)(0.825,1.125)(0.825,1.275)
(0.975,-1.125)(0.975,-0.975)(0.975,-0.825)(0.975,-0.675)(0.975,-0.525)(0.975,-0.375)(0.975,-0.225)(0.975,-0.075)(0.975,0.075)(0.975,0.225)(0.975,0.375)(0.975,0.525)(0.975,0.675)(0.975,0.825)(0.975,0.975)(0.975,1.125)
(1.125,-0.975)(1.125,-0.825)(1.125,-0.675)(1.125,-0.525)(1.125,-0.375)(1.125,-0.225)(1.125,-0.075)(1.125,0.075)(1.125,0.225)(1.125,0.375)(1.125,0.525)(1.125,0.675)(1.125,0.825)(1.125,0.975)(1.125,1.125)
(1.275,-0.675)(1.275,-0.525)(1.275,-0.375)(1.275,-0.225)(1.275,-0.075)(1.275,0.075)(1.275,0.225)(1.275,0.375)(1.275,0.525)(1.275,0.675)(1.275,0.825)(1.275,0.975)
(1.425,-0.525)(1.425,-0.375)(1.425,-0.225)(1.425,-0.075)(1.425,0.075)(1.425,0.225)(1.425,0.375)(1.425,0.525)(1.425,0.675)(1.425,0.825)
(1.575,-0.375)(1.575,-0.225)(1.575,-0.075)(1.575,0.075)(1.575,0.225)(1.575,0.375)(1.575,0.525)
(1.725,-0.225)(1.725,-0.075)(1.725,0.075)(1.725,0.225)(1.725,0.375)
(1.875,0.075)(1.875,0.225)
};
\addplot[male] coordinates {
(-1.8,-0.9)(-1.8,-0.75)(-1.8,-0.6)(-1.8,-0.45)(-1.8,-0.3)(-1.8,-0.15)(-1.8,0)(-1.8,0.15)(-1.8,0.3)(-1.8,0.45)
(-1.65,-0.9)(-1.65,-0.75)(-1.65,-0.6)(-1.65,-0.45)(-1.65,-0.3)(-1.65,-0.15)(-1.65,0)(-1.65,0.15)(-1.65,0.3)(-1.65,0.45)(-1.65,0.6)
(-1.5,-1.05)(-1.5,-0.9)(-1.5,-0.75)(-1.5,-0.6)(-1.5,-0.45)(-1.5,-0.3)(-1.5,-0.15)(-1.5,0)(-1.5,0.15)(-1.5,0.3)(-1.5,0.45)(-1.5,0.6)(-1.5,0.75)
(-1.35,-1.05)(-1.35,-0.9)(-1.35,-0.75)(-1.35,-0.6)(-1.35,-0.45)(-1.35,-0.3)(-1.35,-0.15)(-1.35,0)(-1.35,0.15)(-1.35,0.3)(-1.35,0.45)(-1.35,0.6)(-1.35,0.75)(-1.35,0.9)
(-1.2,-1.2)(-1.2,-1.05)(-1.2,-0.9)(-1.2,-0.75)(-1.2,-0.6)(-1.2,-0.45)(-1.2,-0.3)(-1.2,-0.15)(-1.2,0)(-1.2,0.15)(-1.2,0.3)(-1.2,0.45)(-1.2,0.6)(-1.2,0.75)(-1.2,0.9)(-1.2,1.05)(-1.2,1.2)
(-1.05,-1.2)(-1.05,-1.05)(-1.05,-0.75)(-1.05,-0.6)(-1.05,-0.45)(-1.05,-0.3)(-1.05,-0.15)(-1.05,0)(-1.05,0.15)(-1.05,0.3)(-1.05,0.45)(-1.05,0.6)(-1.05,0.75)(-1.05,0.9)(-1.05,1.05)
(-0.9,-1.35)(-0.9,-1.2)(-0.9,-1.05)(-0.9,-0.75)(-0.9,-0.6)(-0.9,-0.45)(-0.9,-0.3)(-0.9,-0.15)(-0.9,0)(-0.9,0.15)(-0.9,0.3)(-0.9,0.45)(-0.9,0.6)(-0.9,0.75)(-0.9,0.9)(-0.9,1.05)(-0.9,1.2)
(-0.75,-1.35)(-0.75,-1.2)(-0.75,-1.05)(-0.75,-0.9)(-0.75,-0.75)(-0.75,-0.6)(-0.75,-0.45)(-0.75,-0.3)(-0.75,-0.15)(-0.75,0)(-0.75,0.15)(-0.75,0.3)(-0.75,0.45)(-0.75,0.6)(-0.75,0.75)(-0.75,0.9)(-0.75,1.05)(-0.75,1.2)
(-0.6,-1.2)(-0.6,-1.05)(-0.6,-0.9)(-0.6,-0.75)(-0.6,-0.6)(-0.6,-0.45)(-0.6,-0.3)(-0.6,-0.15)(-0.6,0)(-0.6,0.15)(-0.6,0.3)(-0.6,0.45)(-0.6,0.6)(-0.6,0.75)(-0.6,0.9)(-0.6,1.05)(-0.6,1.2)(-0.6,1.35)
(-0.45,-1.2)(-0.45,-1.05)(-0.45,-0.9)(-0.45,-0.75)(-0.45,-0.45)(-0.45,-0.3)(-0.45,-0.15)(-0.45,0)(-0.45,0.15)(-0.45,0.3)(-0.45,0.45)(-0.45,0.6)(-0.45,0.75)(-0.45,0.9)(-0.45,1.05)(-0.45,1.2)
(-0.3,-1.2)(-0.3,-1.05)(-0.3,-0.9)(-0.3,-0.75)(-0.3,-0.6)(-0.3,-0.45)(-0.3,-0.3)(-0.3,-0.15)(-0.3,0)(-0.3,0.15)(-0.3,0.3)(-0.3,0.45)(-0.3,0.6)(-0.3,0.75)(-0.3,0.9)(-0.3,1.05)(-0.3,1.2)(-0.3,1.35)
(-0.15,-1.2)(-0.15,-1.05)(-0.15,-0.9)(-0.15,-0.75)(-0.15,-0.45)(-0.15,-0.3)(-0.15,-0.15)(-0.15,0)(-0.15,0.15)(-0.15,0.3)(-0.15,0.45)(-0.15,0.6)(-0.15,0.75)(-0.15,0.9)(-0.15,1.05)(-0.15,1.2)(-0.15,1.35)(-0.15,1.5)
(0,-1.2)(0,-1.05)(0,-0.9)(0,-0.75)(0,-0.6)(0,-0.45)(0,-0.3)(0,-0.15)(0,0)(0,0.15)(0,0.3)(0,0.45)(0,0.6)(0,0.75)(0,0.9)(0,1.05)(0,1.2)(0,1.35)
(0.15,-1.2)(0.15,-1.05)(0.15,-0.9)(0.15,-0.75)(0.15,-0.6)(0.15,-0.45)(0.15,-0.3)(0.15,-0.15)(0.15,0)(0.15,0.15)(0.15,0.3)(0.15,0.45)(0.15,0.6)(0.15,0.75)(0.15,0.9)(0.15,1.05)(0.15,1.2)(0.15,1.35)(0.15,1.5)
(0.3,-1.35)(0.3,-1.2)(0.3,-1.05)(0.3,-0.9)(0.3,-0.75)(0.3,-0.6)(0.3,-0.45)(0.3,-0.3)(0.3,-0.15)(0.3,0)(0.3,0.15)(0.3,0.3)(0.3,0.45)(0.3,0.6)(0.3,0.75)(0.3,0.9)(0.3,1.05)(0.3,1.2)(0.3,1.35)
(0.45,-1.35)(0.45,-1.2)(0.45,-1.05)(0.45,-0.9)(0.45,-0.75)(0.45,-0.6)(0.45,-0.45)(0.45,-0.3)(0.45,-0.15)(0.45,0)(0.45,0.15)(0.45,0.3)(0.45,0.45)(0.45,0.6)(0.45,0.75)(0.45,0.9)(0.45,1.05)(0.45,1.2)(0.45,1.35)(0.45,1.5)
(0.6,-1.35)(0.6,-1.2)(0.6,-1.05)(0.6,-0.9)(0.6,-0.75)(0.6,-0.6)(0.6,-0.45)(0.6,-0.3)(0.6,-0.15)(0.6,0)(0.6,0.15)(0.6,0.3)(0.6,0.45)(0.6,0.6)(0.6,0.75)(0.6,0.9)(0.6,1.05)(0.6,1.2)(0.6,1.35)(0.6,1.5)
(0.75,-1.35)(0.75,-1.2)(0.75,-0.9)(0.75,-0.75)(0.75,-0.6)(0.75,-0.45)(0.75,-0.3)(0.75,-0.15)(0.75,0)(0.75,0.15)(0.75,0.3)(0.75,0.45)(0.75,0.6)(0.75,0.75)(0.75,0.9)(0.75,1.05)(0.75,1.2)(0.75,1.35)
(0.9,-1.2)(0.9,-1.05)(0.9,-0.75)(0.9,-0.6)(0.9,-0.45)(0.9,-0.3)(0.9,-0.15)(0.9,0)(0.9,0.15)(0.9,0.3)(0.9,0.45)(0.9,0.6)(0.9,0.75)(0.9,0.9)(0.9,1.05)(0.9,1.2)(0.9,1.35)(0.9,1.5)
(1.05,-1.2)(1.05,-1.05)(1.05,-0.9)(1.05,-0.75)(1.05,-0.6)(1.05,-0.45)(1.05,-0.3)(1.05,-0.15)(1.05,0)(1.05,0.15)(1.05,0.3)(1.05,0.45)(1.05,0.6)(1.05,0.75)(1.05,0.9)(1.05,1.05)(1.05,1.2)
(1.2,-1.05)(1.2,-0.9)(1.2,-0.75)(1.2,-0.6)(1.2,-0.45)(1.2,-0.3)(1.2,-0.15)(1.2,0)(1.2,0.15)(1.2,0.3)(1.2,0.45)(1.2,0.6)(1.2,0.75)(1.2,0.9)(1.2,1.05)(1.2,1.2)
(1.35,-0.75)(1.35,-0.6)(1.35,-0.45)(1.35,-0.3)(1.35,-0.15)(1.35,0)(1.35,0.15)(1.35,0.3)(1.35,0.45)(1.35,0.6)(1.35,0.75)(1.35,0.9)(1.35,1.05)
(1.5,-0.6)(1.5,-0.45)(1.5,-0.3)(1.5,-0.15)(1.5,0)(1.5,0.15)(1.5,0.3)(1.5,0.45)(1.5,0.6)(1.5,0.75)(1.5,0.9)
(1.65,-0.45)(1.65,-0.3)(1.65,-0.15)(1.65,0)(1.65,0.15)(1.65,0.3)(1.65,0.45)(1.65,0.6)
(1.8,-0.3)(1.8,-0.15)(1.8,0)(1.8,0.15)(1.8,0.3)(1.8,0.45)
(1.95,0)(1.95,0.15)(1.95,0.3)
(-0.335,2.201)(1.131,2.201)(-0.987,2.048)(-0.433,2.023)(0.371,2.048)(0.208,1.947)(0.389,1.921)(-0.433,1.705)(-0.118,1.756)
(-0.118,1.654)(0.588,1.845)(1.004,1.781)(1.312,1.718)(1.493,1.616)(1.674,1.654)(1.8,1.616)(2.995,1.985)(2.904,1.4)
(2.325,1.553)(2.325,1.362)(1.999,1.209)(2.452,1.146)(2.216,0.917)(2.452,0.917)(2.687,0.917)(2.452,0.739)(2.651,0.192)
(2.995,-0.253)(2.325,-0.278)(2.452,-0.38)(2.144,-0.583)(2.452,-0.507)(1.8,-0.38)(1.8,-0.532)(1.312,-0.57)(1.999,0.561)
(1.8,0.561)(1.674,0.485)(2.904,0.485)(2.796,0.434)(3.013,0.434)(2.234,0.561)(-1.765,1.146)(-1.222,1.248)(0.135,1.553)
(0.678,1.642)(0.895,1.604)
(-0.19,-3.128)(0.016,-2.732)(0.57,-2.732)(1.232,-2.732)(-1.095,-2.42)(-1.421,-1.856)(-1.421,-1.916)(-1.301,-2.012)
(-1.204,-1.772)(-1.113,-1.916)(-1.005,-1.964)(-0.878,-1.928)(-0.751,-1.928)(-0.534,-1.856)(-0.426,-1.94)(-0.643,-1.676)
(-0.643,-1.736)(-0.089,-1.808)(0.016,-2.024)(0.226,-1.892)(0.678,-1.832)(0.776,-1.628)(0.57,-1.544)(0.226,-1.616)
(0.226,-1.544)(0.016,-1.496)(-0.335,-1.364)(-0.444,-1.568)(-0.552,-1.568)(-0.335,-1.556)(-1.312,-1.568)(-1.421,-1.4)
(-1.113,-1.328)(-1.005,-1.232)(-1.312,-1.124)(1.221,-1.436)(1.565,-1.472)(1.891,-1.472)(2.035,-1.436)(0.914,-1.472)
(0.914,-1.388)(1.221,-1.268)(1.221,-1.172)(0.66,-1.46)(0.552,-1.388)(1.33,-1.04)(1.239,-0.908)(2.235,-0.812)(2.126,-0.596)
(1.782,-0.62)(1.782,-0.476)(2.452,-0.536)(2.452,-0.404)(1.33,-0.56)(2.343,-0.296)(2.995,-0.272)
};
\addplot[female] coordinates {
(-0.643,2.137)(-1.765,1.909)(-1.403,1.705)(-0.896,1.743)(-1.674,1.349)(-1.439,1.273)(-1.005,1.273)(-1.005,1.515)
(-0.896,1.515)(-0.335,1.438)(0.117,1.375)(0.371,1.4)(-1.656,0.853)(-0.09,1.324)(0.371,1.209)
(-1.765,0.714)(-1.656,0.663)(-1.765,0.485)(-1.548,0.51)(-1.439,0.612)(-1.312,0.765)(-1.258,0.51)(-1.15,0.637)
(-0.932,0.968)(-0.751,0.993)(-0.534,1.019)(-0.408,0.79)(-0.643,0.625)(-0.317,0.701)(0.009,0.688)(0.009,1.07)
(-0.516,1.273)(-0.335,0.637)(-1.765,0.256)(-1.566,0.256)(-1.312,0.307)(-1.113,0.154)(-0.643,0.408)(-0.896,0.027)
(-0.751,0.103)(0.009,0.23)(0.353,-0.049)(-1.765,0.002)(-1.566,0.002)(-1.421,-0.049)(-1.765,-0.215)(-1.548,-0.253)
(-1.294,-0.303)(-0.751,-0.278)(-0.643,-0.38)(-0.335,-0.405)(0.009,-0.202)(0.678,-0.265)(0.57,-0.418)(0.117,-0.609)
(-1.765,-0.43)(-1.656,-0.583)(-1.421,-0.507)(-1.222,-0.583)(-1.005,-0.52)
(-1.765,-0.62)(-1.548,-0.704)(-1.331,-0.608)(-1.421,-0.788)(-1.656,-0.86)(-1.765,-0.932)(-1.204,-0.404)(-1.095,-0.704)
(-1.095,-1.088)(-1.204,-1.004)(-1.421,-1.196)(-0.751,-0.692)(-0.751,-0.908)(-0.552,-1.124)
(-1.41,-2.828)(-1.765,-2.324)(-1.555,-2.156)(-1.656,-1.892)(-1.765,-1.736)(-1.555,-1.664)(-1.765,-1.556)(-1.656,-1.472)
(-1.765,-1.4)(-1.312,-1.424)(-0.889,-1.736)(-0.751,-1.496)
};
\addplot[mdash] coordinates {(-2.213,-0.303) (3.29,0.574)};
\addplot[mcore] coordinates {(-2.213,-0.303) (3.29,0.574)};
\addplot[fdots] coordinates {(-2.213,-0.62) (3.29,2.303)};
\addplot[fcore] coordinates {(-2.213,-0.62) (3.29,2.303)};
\node[ptitle] at (rel axis cs:0.073,0.925) {Y=Memory};
\end{axis}
\node[rotate=90, font=\fontsize{14}{16}\selectfont] at (-45.2pt,114.8pt) {Standardized Y-Score};
\node[font=\fontsize{14}{16}\selectfont] at (280.8pt,-43.2pt) {Standardized Target Score};
\pgfresetboundingbox
\path (-59.2pt,-52.4pt) rectangle (564.8pt,236.8pt);
\end{tikzpicture}
\end{document}
